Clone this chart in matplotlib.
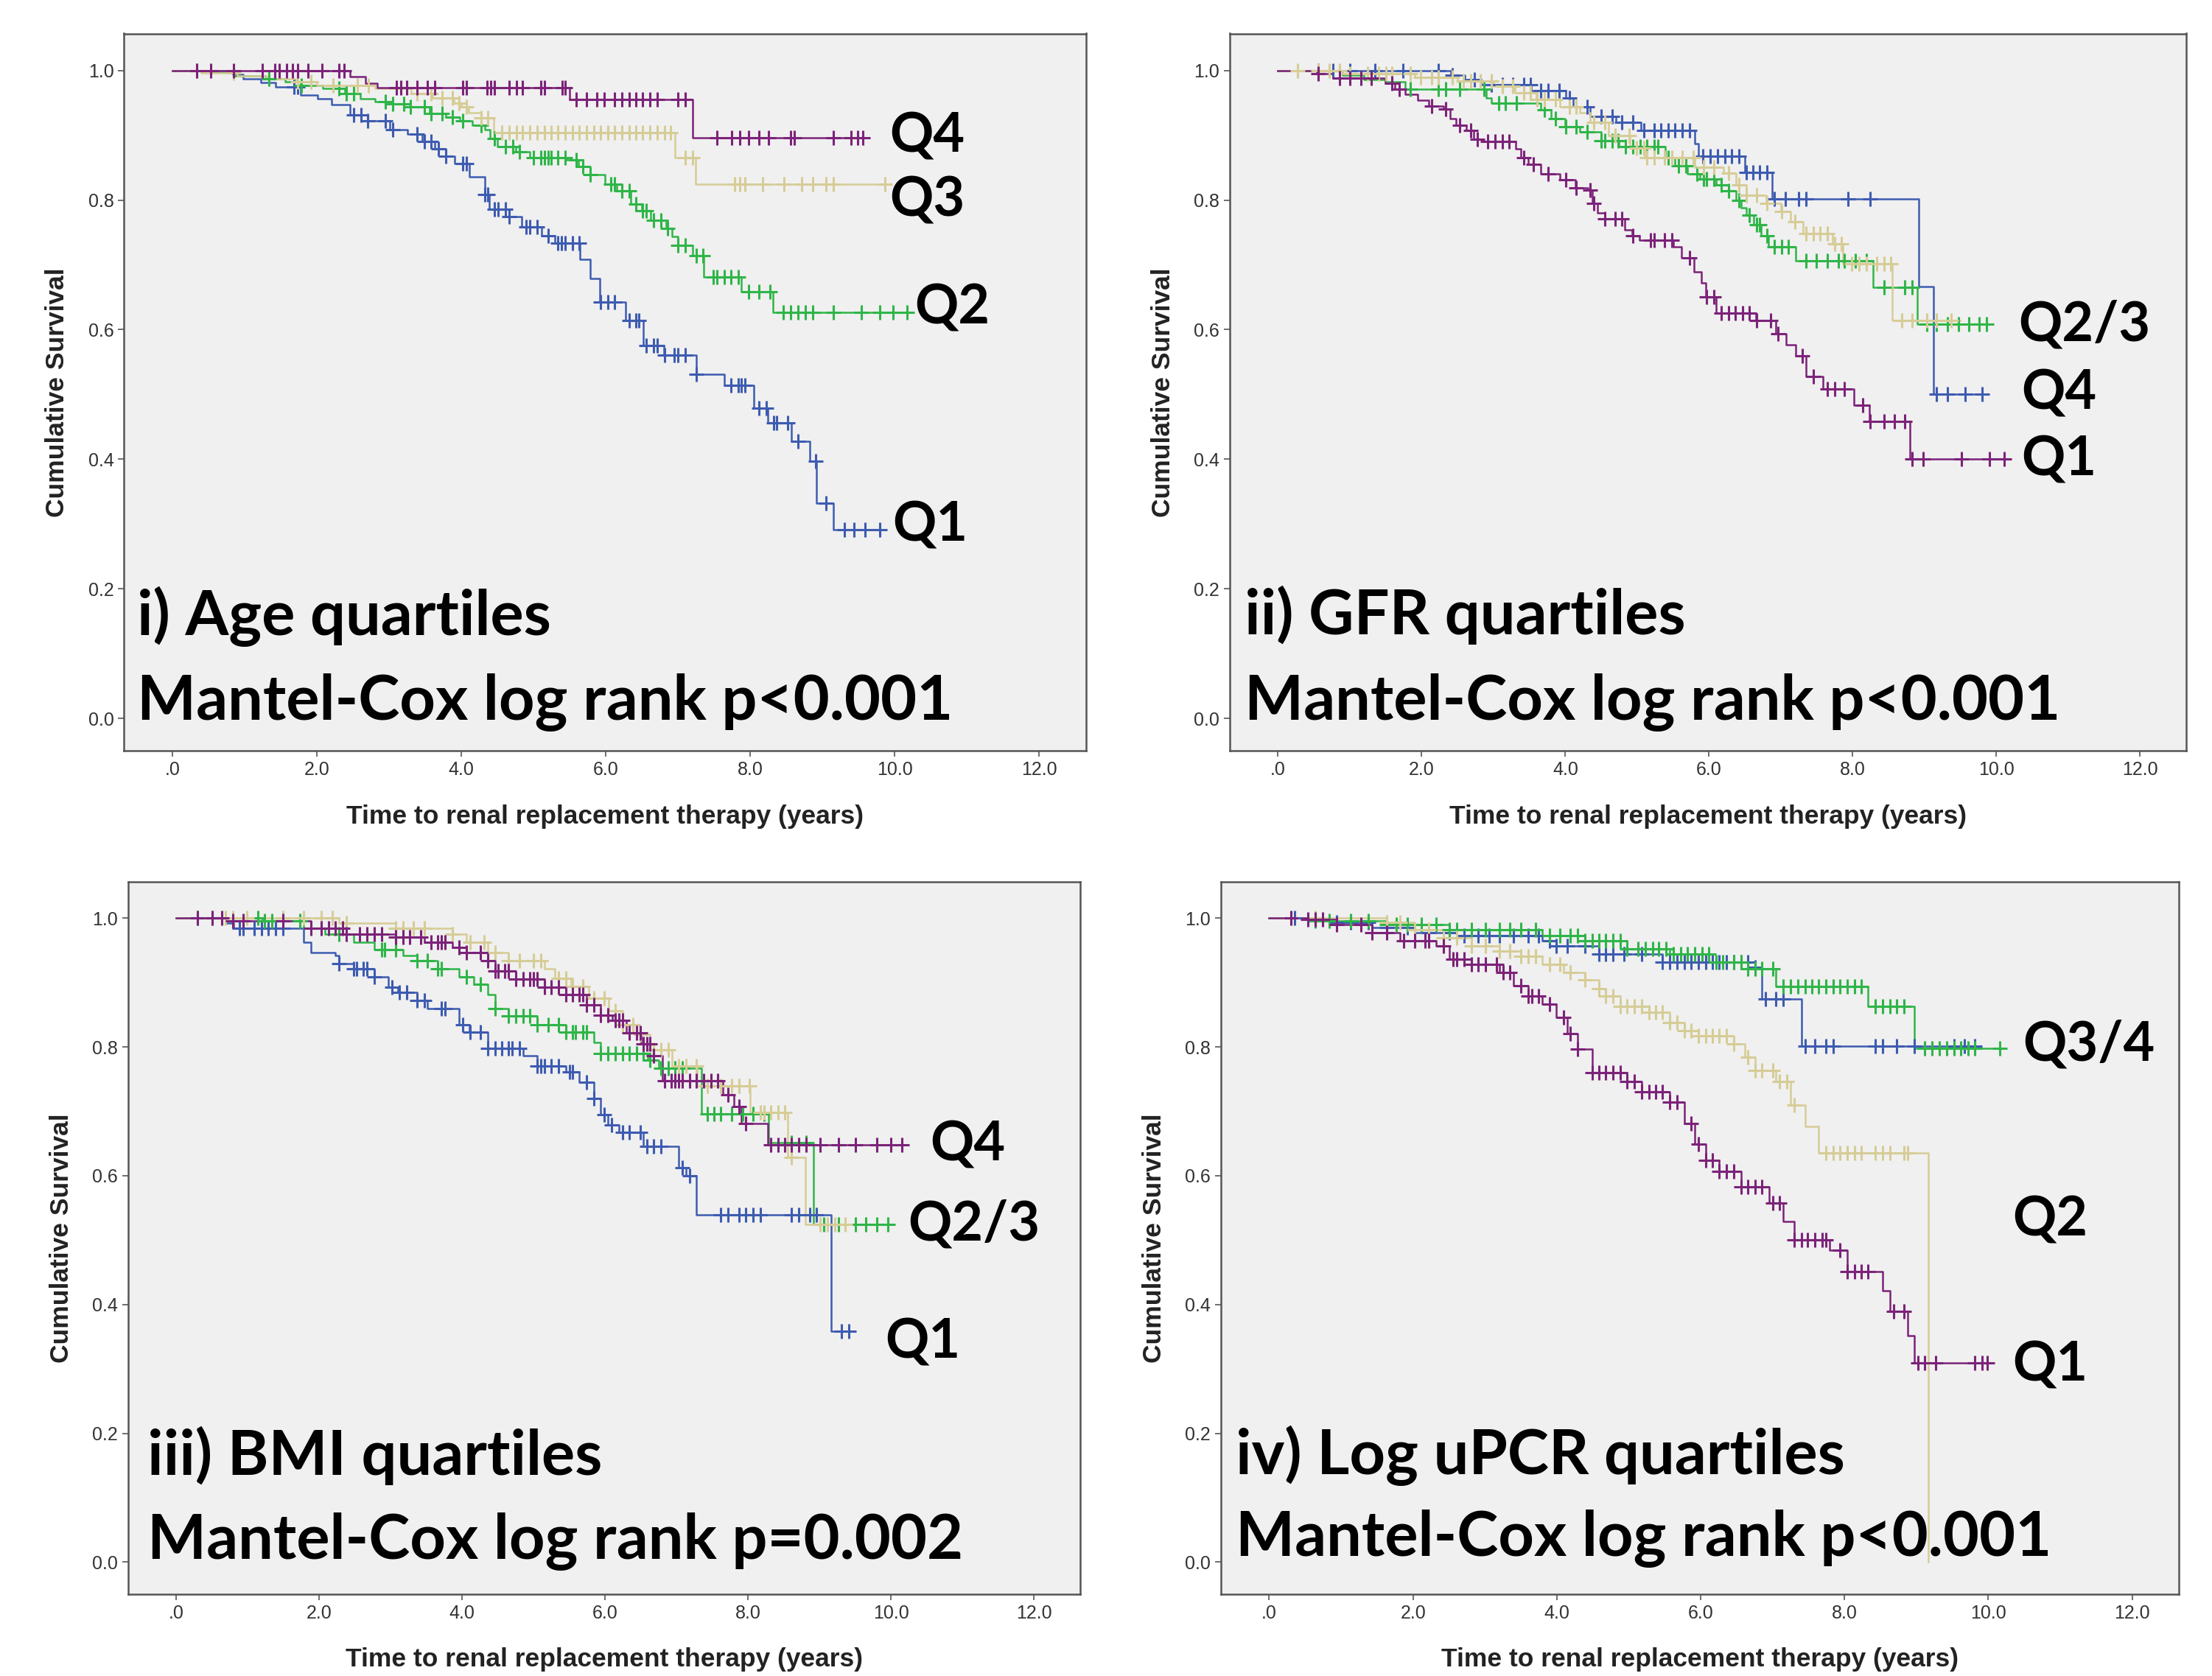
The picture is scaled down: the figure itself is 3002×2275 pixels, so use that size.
import numpy as np
import matplotlib
matplotlib.use("Agg")
import matplotlib.pyplot as plt
from matplotlib import font_manager

# ---- data (time in years, cumulative survival) ----
# panel i: age quartiles
age_q1_t = [0.84, 0.98, 1.22, 1.43, 1.77, 2.01, 2.2, 2.46, 2.7, 3.01, 3.25, 3.46, 3.63, 3.78, 3.91, 4.11, 4.32, 4.39,
            4.66, 4.84, 5.11, 5.29, 5.64, 5.78, 5.92, 6.27, 6.52, 6.8, 7.25, 7.64, 8.05, 8.24, 8.57, 8.82, 8.92, 9.15]
age_q1_s = [0.994, 0.987, 0.981, 0.975, 0.962, 0.956, 0.947, 0.931, 0.922, 0.909, 0.902, 0.891, 0.879, 0.868, 0.856,
            0.836, 0.809, 0.786, 0.774, 0.759, 0.745, 0.733, 0.708, 0.679, 0.643, 0.614, 0.576, 0.561, 0.531, 0.514,
            0.479, 0.456, 0.428, 0.397, 0.332, 0.291]
age_q1_end = 9.8
age_q1_c = [1.68, 1.73, 2.51, 2.61, 2.7, 2.95, 3.05, 3.39, 3.49, 3.58, 3.68, 3.78, 4.02, 4.07, 4.32, 4.37, 4.46, 4.51,
            4.61, 4.66, 4.9, 4.95, 5.05, 5.2, 5.34, 5.39, 5.44, 5.54, 5.63, 5.93, 6.03, 6.12, 6.32, 6.42, 6.46, 6.56,
            6.66, 6.71, 6.81, 6.95, 7.0, 7.1, 7.25, 7.73, 7.83, 7.88, 7.93, 8.12, 8.22, 8.32, 8.37, 8.52, 8.66, 8.91,
            9.05, 9.3, 9.44, 9.59, 9.79]

age_q2_t = [0.53, 0.87, 1.29, 1.56, 1.77, 2.08, 2.39, 2.6, 2.8, 3.05, 3.29, 3.56, 3.78, 3.98, 4.15, 4.32, 4.4, 4.5,
            4.75, 4.95, 5.46, 5.62, 5.78, 5.99, 6.15, 6.34, 6.5, 6.62, 6.83, 6.92, 7.0, 7.2, 7.36, 7.88, 8.31]
age_q2_s = [0.997, 0.992, 0.987, 0.982, 0.977, 0.972, 0.964, 0.956, 0.952, 0.948, 0.944, 0.934, 0.928, 0.922, 0.915,
            0.909, 0.895, 0.883, 0.875, 0.866, 0.862, 0.852, 0.839, 0.825, 0.814, 0.794, 0.784, 0.769, 0.756, 0.744,
            0.73, 0.714, 0.681, 0.658, 0.627]
age_q2_end = 10.2
age_q2_c = [0.34, 1.34, 1.78, 2.31, 2.41, 2.51, 2.95, 3.05, 3.2, 3.29, 3.49, 3.58, 3.73, 3.88, 4.02, 4.27, 4.46, 4.61,
            4.71, 4.8, 5.0, 5.1, 5.15, 5.2, 5.24, 5.34, 5.44, 5.59, 5.68, 5.78, 6.07, 6.12, 6.22, 6.32, 6.42, 6.51,
            6.56, 6.66, 6.76, 6.86, 7.0, 7.1, 7.25, 7.34, 7.49, 7.54, 7.64, 7.73, 7.83, 7.98, 8.12, 8.27, 8.46, 8.56,
            8.66, 8.76, 8.86, 9.15, 9.54, 9.79, 9.98, 10.17]

age_q3_t = [0.4, 0.9, 1.3, 1.7, 2.0, 2.8, 3.3, 3.6, 3.9, 4.0, 4.1, 4.27, 4.45, 6.96, 7.24]
age_q3_s = [0.996, 0.992, 0.987, 0.982, 0.977, 0.972, 0.964, 0.958, 0.95, 0.944, 0.935, 0.927, 0.904, 0.866, 0.824]
age_q3_end = 9.87
age_q3_c = [0.85, 1.73, 1.92, 2.22, 2.56, 2.71, 3.39, 3.58, 3.73, 3.88, 3.97, 4.07, 4.27, 4.37, 4.56, 4.66, 4.76, 4.85,
            4.95, 5.05, 5.15, 5.24, 5.34, 5.44, 5.54, 5.63, 5.73, 5.83, 5.93, 6.03, 6.12, 6.22, 6.32, 6.42, 6.51, 6.61,
            6.71, 6.81, 6.9, 7.1, 7.2, 7.78, 7.86, 7.93, 8.17, 8.47, 8.71, 8.86, 9.05, 9.15, 9.87]

age_q4_t = [2.46, 2.67, 2.84, 5.5, 7.2]
age_q4_s = [0.99, 0.98, 0.974, 0.955, 0.896]
age_q4_end = 9.56
age_q4_c = [0.34, 0.53, 0.85, 1.24, 1.42, 1.48, 1.58, 1.66, 1.73, 1.88, 2.07, 2.3, 2.38, 3.1, 3.16, 3.24, 3.39, 3.53,
            3.63, 4.02, 4.07, 4.36, 4.41, 4.46, 4.66, 4.76, 4.85, 5.1, 5.15, 5.4, 5.44, 5.59, 5.73, 5.88, 5.98, 6.12,
            6.22, 6.32, 6.42, 6.51, 6.61, 6.71, 7.0, 7.1, 7.54, 7.74, 7.86, 7.98, 8.12, 8.25, 8.56, 8.61, 9.15, 9.4,
            9.49, 9.56]

# panel ii: GFR quartiles
gfr_q1_t = [0.54, 0.76, 1.49, 1.63, 1.77, 1.95, 2.1, 2.3, 2.4, 2.48, 2.62, 2.72, 2.86, 3.31, 3.38, 3.48, 3.66, 3.93,
            4.14, 4.31, 4.38, 4.45, 4.55, 4.83, 4.93, 5.03, 5.5, 5.62, 5.79, 5.89, 5.96, 6.1, 6.65, 6.93, 7.07, 7.21,
            7.35, 7.59, 8.02, 8.23, 8.8]
gfr_q1_s = [0.995, 0.9885, 0.98, 0.971, 0.963, 0.954, 0.945, 0.941, 0.926, 0.915, 0.907, 0.894, 0.89, 0.879, 0.866,
            0.855, 0.84, 0.831, 0.819, 0.815, 0.795, 0.78, 0.771, 0.754, 0.745, 0.738, 0.728, 0.711, 0.689, 0.672,
            0.65, 0.626, 0.614, 0.594, 0.577, 0.56, 0.528, 0.508, 0.484, 0.458, 0.40]
gfr_q1_end = 10.19
gfr_q1_c = [0.56, 0.86, 1.0, 1.15, 1.3, 1.59, 1.69, 2.14, 2.33, 2.53, 2.68, 2.78, 2.92, 3.02, 3.12, 3.22, 3.42, 3.56,
            3.76, 4.01, 4.15, 4.35, 4.4, 4.55, 4.69, 4.79, 4.94, 5.19, 5.24, 5.38, 5.48, 5.73, 5.97, 6.07, 6.17, 6.27,
            6.37, 6.47, 6.56, 6.66, 6.86, 6.96, 7.3, 7.45, 7.65, 7.75, 7.89, 8.14, 8.24, 8.44, 8.58, 8.73, 8.83, 8.98,
            9.52, 9.91, 10.11]

gfr_q2_t = [0.9, 1.2, 1.5, 1.77, 2.9, 2.97, 3.66, 3.8, 4.0, 4.2, 4.5, 4.75, 5.39, 5.53, 5.7, 5.87, 6.1, 6.27, 6.38,
            6.45, 6.52, 6.62, 6.73, 6.83, 7.21, 8.28, 8.9]
gfr_q2_s = [0.993, 0.986, 0.983, 0.971, 0.958, 0.95, 0.939, 0.926, 0.913, 0.905, 0.892, 0.883, 0.866, 0.853, 0.84,
            0.833, 0.823, 0.814, 0.80, 0.788, 0.777, 0.762, 0.745, 0.728, 0.706, 0.665, 0.609]
gfr_q2_end = 9.86
gfr_q2_c = [1.84, 2.23, 2.33, 2.53, 2.87, 3.07, 3.17, 3.32, 3.71, 3.86, 4.01, 4.15, 4.3, 4.5, 4.55, 4.65, 4.74, 4.84,
            4.94, 5.04, 5.14, 5.24, 5.29, 5.43, 5.58, 5.68, 5.83, 5.93, 5.97, 6.07, 6.17, 6.27, 6.42, 6.56, 6.66, 6.71,
            6.81, 6.91, 7.01, 7.11, 7.35, 7.5, 7.65, 7.8, 7.89, 8.04, 8.19, 8.44, 8.73, 8.83, 9.03, 9.17, 9.32, 9.47,
            9.62, 9.76, 9.86]

gfr_q3_t = [0.9, 1.9, 2.5, 3.0, 3.3, 3.6, 3.93, 4.2, 4.35, 4.6, 4.9, 5.1, 5.8, 6.2, 6.38, 6.52, 6.8, 7.0, 7.14, 7.31,
            7.72, 7.86, 8.55]
gfr_q3_s = [0.995, 0.989, 0.984, 0.976, 0.965, 0.955, 0.944, 0.935, 0.92, 0.9, 0.88, 0.866, 0.851, 0.841, 0.823,
            0.807, 0.795, 0.782, 0.767, 0.748, 0.732, 0.702, 0.614]
gfr_q3_end = 9.5
gfr_q3_c = [0.27, 0.56, 0.71, 0.86, 1.0, 1.25, 1.4, 1.5, 1.59, 1.84, 1.99, 2.14, 2.23, 2.43, 2.58, 2.68, 2.82, 2.97,
            3.12, 3.27, 3.42, 3.51, 3.61, 3.71, 3.86, 4.06, 4.15, 4.4, 4.55, 4.69, 4.89, 4.99, 5.09, 5.14, 5.24, 5.38,
            5.48, 5.63, 5.78, 5.93, 6.07, 6.27, 6.42, 6.52, 6.66, 6.81, 7.01, 7.2, 7.35, 7.45, 7.55, 7.65, 7.75, 7.84,
            7.99, 8.09, 8.19, 8.34, 8.44, 8.53, 8.68, 8.83, 9.03, 9.17, 9.37]

gfr_q4_t = [2.41, 2.6, 2.83, 3.52, 4.01, 4.11, 4.35, 4.7, 5.05, 5.8, 5.85, 6.5, 6.88, 8.92, 9.13]
gfr_q4_s = [0.993, 0.986, 0.978, 0.969, 0.958, 0.944, 0.929, 0.92, 0.907, 0.887, 0.868, 0.843, 0.8015, 0.667, 0.501]
gfr_q4_end = 9.8
gfr_q4_c = [0.56, 0.76, 1.0, 1.35, 1.74, 2.23, 2.43, 2.73, 2.97, 3.12, 3.27, 3.42, 3.51, 3.66, 3.76, 3.91, 4.06, 4.3,
            4.5, 4.65, 4.79, 4.94, 5.09, 5.24, 5.33, 5.43, 5.53, 5.63, 5.73, 5.92, 6.02, 6.12, 6.22, 6.32, 6.42, 6.52,
            6.61, 6.71, 6.81, 6.91, 7.06, 7.25, 7.35, 7.94, 8.24, 9.17, 9.32, 9.57, 9.8]

# panel iii: BMI quartiles
bmi_q1_t = [0.69, 0.8, 1.78, 1.88, 2.23, 2.28, 2.48, 2.77, 2.97, 3.1, 3.37, 3.51, 3.96, 4.1, 4.36, 4.85, 5.05, 5.45,
            5.64, 5.84, 5.94, 6.04, 6.19, 6.53, 7.03, 7.13, 7.28, 9.16]
bmi_q1_s = [0.992, 0.984, 0.963, 0.947, 0.942, 0.93, 0.922, 0.909, 0.893, 0.885, 0.872, 0.86, 0.835, 0.823, 0.798,
            0.786, 0.77, 0.761, 0.745, 0.72, 0.695, 0.679, 0.667, 0.646, 0.613, 0.60, 0.539, 0.358]
bmi_q1_end = 9.46
bmi_q1_c = [0.89, 0.94, 1.09, 1.19, 1.29, 1.39, 1.49, 2.28, 2.48, 2.52, 2.62, 2.67, 2.77, 3.02, 3.12, 3.22, 3.37,
            3.47, 3.71, 3.76, 4.01, 4.11, 4.26, 4.36, 4.46, 4.55, 4.65, 4.7, 4.8, 5.05, 5.1, 5.15, 5.25, 5.35, 5.5,
            5.54, 5.74, 5.84, 5.99, 6.09, 6.24, 6.34, 6.49, 6.58, 6.68, 6.78, 7.08, 7.18, 7.62, 7.72, 7.87, 7.97, 8.07,
            8.17, 8.61, 8.71, 8.86, 8.96, 9.31, 9.41]

bmi_q2_t = [1.2, 1.78, 2.08, 2.48, 2.77, 3.17, 3.37, 3.66, 3.96, 4.16, 4.36, 4.46, 4.65, 5.05, 5.45, 5.84, 5.94, 6.6,
            6.75, 7.35, 8.29, 8.91]
bmi_q2_s = [0.996, 0.984, 0.975, 0.963, 0.951, 0.942, 0.934, 0.922, 0.909, 0.897, 0.881, 0.86, 0.848, 0.835, 0.823,
            0.807, 0.79, 0.78, 0.767, 0.696, 0.652, 0.524]
bmi_q2_end = 9.96
bmi_q2_c = [0.3, 0.5, 1.14, 1.24, 1.34, 1.49, 1.73, 2.28, 2.87, 2.92, 3.07, 3.37, 3.51, 3.66, 3.71, 4.06, 4.26, 4.46,
            4.65, 4.75, 4.85, 4.95, 5.05, 5.2, 5.35, 5.45, 5.54, 5.59, 5.69, 5.74, 5.94, 6.04, 6.14, 6.24, 6.34, 6.44,
            6.53, 6.63, 6.78, 6.88, 6.98, 7.08, 7.43, 7.52, 7.62, 7.77, 7.92, 8.07, 8.22, 8.61, 8.81, 9.06, 9.26, 9.5,
            9.65, 9.8, 9.95]

bmi_q3_t = [2.28, 3.07, 3.86, 4.06, 4.36, 4.65, 5.15, 5.3, 5.52, 5.77, 6.05, 6.24, 6.44, 6.63, 6.94, 7.29, 8.03,
            8.55, 8.8]
bmi_q3_s = [0.992, 0.984, 0.975, 0.963, 0.947, 0.934, 0.921, 0.907, 0.894, 0.876, 0.856, 0.835, 0.82, 0.796, 0.77,
            0.74, 0.698, 0.629, 0.525]
bmi_q3_end = 9.6
bmi_q3_c = [0.5, 0.69, 0.79, 0.99, 1.49, 1.78, 2.03, 2.18, 2.38, 3.07, 3.17, 3.32, 3.47, 3.86, 4.11, 4.31, 4.46, 4.65,
            4.8, 5.0, 5.1, 5.35, 5.45, 5.54, 5.69, 5.84, 5.99, 6.14, 6.24, 6.39, 6.49, 6.68, 6.78, 6.88, 7.03, 7.13,
            7.28, 7.43, 7.62, 7.77, 7.87, 8.02, 8.17, 8.22, 8.32, 8.42, 8.51, 8.61, 9.01, 9.11, 9.21, 9.36]

bmi_q4_t = [0.79, 1.88, 2.38, 3.07, 3.47, 3.86, 4.06, 4.36, 4.46, 4.75, 5.15, 5.45, 5.74, 5.94, 6.1, 6.3, 6.5, 6.68,
            6.8, 7.65, 7.8, 7.9, 8.27]
bmi_q4_s = [0.996, 0.984, 0.975, 0.971, 0.963, 0.955, 0.947, 0.934, 0.918, 0.905, 0.893, 0.881, 0.865, 0.85, 0.841,
            0.822, 0.805, 0.787, 0.748, 0.726, 0.708, 0.681, 0.648]
bmi_q4_end = 10.17
bmi_q4_c = [0.3, 0.5, 0.64, 0.79, 0.94, 1.49, 1.88, 2.03, 2.13, 2.23, 2.33, 2.38, 2.57, 2.67, 2.77, 2.87, 3.07, 3.17,
            3.27, 3.42, 3.56, 3.66, 3.71, 3.76, 3.96, 4.06, 4.26, 4.36, 4.46, 4.5, 4.6, 4.65, 4.75, 4.85, 4.95, 5.0,
            5.05, 5.15, 5.25, 5.35, 5.45, 5.54, 5.64, 5.69, 5.74, 5.84, 5.94, 6.04, 6.14, 6.19, 6.24, 6.34, 6.44,
            6.49, 6.53, 6.58, 6.63, 6.68, 6.83, 6.93, 6.98, 7.03, 7.08, 7.18, 7.28, 7.38, 7.48, 7.57, 7.72, 7.87,
            7.97, 8.32, 8.42, 8.51, 8.61, 8.71, 8.81, 9.01, 9.26, 9.5, 9.8, 10.0, 10.15]

# panel iv: log uPCR quartiles
upcr_q1_t = [0.54, 0.94, 1.43, 1.82, 2.32, 2.51, 2.81, 3.2, 3.4, 3.6, 3.8, 3.99, 4.14, 4.29, 4.49, 4.98, 5.18, 5.57,
             5.77, 5.92, 6.07, 6.26, 6.56, 6.95, 7.15, 7.3, 7.79, 8.04, 8.53, 8.63, 8.88, 8.97]
upcr_q1_s = [0.998, 0.99, 0.978, 0.965, 0.957, 0.937, 0.928, 0.916, 0.895, 0.879, 0.867, 0.846, 0.821, 0.797, 0.76,
             0.747, 0.731, 0.714, 0.681, 0.649, 0.624, 0.607, 0.583, 0.558, 0.529, 0.5, 0.484, 0.451, 0.422, 0.389,
             0.352, 0.309]
upcr_q1_end = 10.0
upcr_q1_c = [0.3, 0.54, 0.64, 0.74, 0.94, 1.28, 1.43, 1.63, 1.87, 2.02, 2.17, 2.22, 2.42, 2.56, 2.61, 2.71, 2.81,
             2.91, 3.01, 3.16, 3.25, 3.35, 3.5, 3.6, 3.65, 3.75, 3.9, 4.09, 4.19, 4.29, 4.49, 4.59, 4.68, 4.78, 4.88,
             4.98, 5.08, 5.18, 5.28, 5.37, 5.47, 5.57, 5.67, 5.87, 5.97, 6.07, 6.16, 6.26, 6.36, 6.46, 6.56, 6.66,
             6.76, 6.85, 7.0, 7.1, 7.3, 7.4, 7.49, 7.59, 7.69, 7.74, 7.94, 8.04, 8.14, 8.23, 8.33, 8.68, 8.83, 9.02,
             9.12, 9.27, 9.81, 9.91, 9.99]

upcr_q2_t = [1.63, 2.02, 2.42, 2.81, 3.2, 3.5, 3.8, 4.09, 4.39, 4.59, 4.68, 4.88, 5.28, 5.57, 5.77, 5.97, 6.46, 6.61,
             6.76, 7.05, 7.25, 7.45, 7.64, 9.17]
upcr_q2_s = [0.994, 0.982, 0.97, 0.957, 0.949, 0.941, 0.928, 0.916, 0.904, 0.891, 0.879, 0.863, 0.854, 0.838, 0.826,
             0.817, 0.805, 0.784, 0.764, 0.747, 0.71, 0.677, 0.636, 0.0]
upcr_q2_end = 9.17
upcr_q2_c = [0.3, 0.64, 1.63, 1.82, 2.02, 2.22, 2.42, 2.61, 2.81, 3.01, 3.2, 3.35, 3.5, 3.6, 3.7, 3.9, 4.04, 4.19,
             4.39, 4.59, 4.68, 4.78, 4.88, 4.98, 5.08, 5.18, 5.28, 5.37, 5.47, 5.57, 5.67, 5.77, 5.87, 5.97, 6.07,
             6.16, 6.26, 6.36, 6.46, 6.66, 6.76, 6.85, 7.0, 7.1, 7.2, 7.3, 7.74, 7.84, 7.94, 8.04, 8.14, 8.23, 8.43,
             8.53, 8.63, 8.83, 8.88]

upcr_q3_t = [0.64, 1.63, 2.51, 3.8, 4.39, 4.98, 5.57, 6.16, 6.66, 7.05, 8.33, 8.97]
upcr_q3_s = [0.996, 0.99, 0.982, 0.973, 0.965, 0.953, 0.945, 0.932, 0.922, 0.894, 0.863, 0.798]
upcr_q3_end = 10.2
upcr_q3_c = [0.64, 0.84, 1.13, 1.38, 1.63, 1.77, 1.92, 2.12, 2.32, 2.51, 2.61, 2.81, 3.01, 3.2, 3.35, 3.5, 3.7, 3.9,
             4.04, 4.19, 4.29, 4.39, 4.49, 4.59, 4.68, 4.78, 4.88, 4.98, 5.13, 5.23, 5.33, 5.42, 5.52, 5.62, 5.72,
             5.82, 5.92, 6.02, 6.11, 6.21, 6.31, 6.46, 6.56, 6.66, 6.76, 6.85, 7.0, 7.15, 7.25, 7.35, 7.45, 7.55,
             7.64, 7.74, 7.84, 7.94, 8.04, 8.14, 8.23, 8.43, 8.53, 8.63, 8.73, 8.83, 9.12, 9.22, 9.32, 9.42, 9.52,
             9.62, 9.72, 9.81, 10.16]

upcr_q4_t = [0.64, 0.94, 1.43, 2.02, 2.61, 3.8, 3.99, 4.59, 5.47, 6.76, 6.85, 7.4]
upcr_q4_s = [0.998, 0.994, 0.986, 0.978, 0.973, 0.965, 0.957, 0.945, 0.932, 0.924, 0.875, 0.801]
upcr_q4_end = 9.86
upcr_q4_c = [0.35, 0.64, 0.94, 1.13, 1.38, 1.63, 1.92, 2.22, 2.51, 2.71, 2.91, 3.06, 3.2, 3.4, 3.6, 3.75, 3.9, 3.99,
             4.14, 4.39, 4.59, 4.68, 4.78, 4.93, 5.18, 5.47, 5.57, 5.67, 5.77, 5.87, 5.97, 6.07, 6.16, 6.26, 6.36,
             6.46, 6.56, 6.66, 6.76, 6.9, 7.05, 7.15, 7.45, 7.59, 7.74, 7.84, 8.43, 8.53, 8.73, 8.97, 9.52, 9.67, 9.81]

xticks = [0, 2, 4, 6, 8, 10, 12]
xtick_labels = [".0", "2.0", "4.0", "6.0", "8.0", "10.0", "12.0"]
yticks = [0.0, 0.2, 0.4, 0.6, 0.8, 1.0]
ytick_labels = ["0.0", "0.2", "0.4", "0.6", "0.8", "1.0"]

BLUE = "#3d5bb0"
GREEN = "#2fb548"
TAN = "#d6cc96"
PURPLE = "#7c2279"

names = {f.name for f in font_manager.fontManager.ttflist}
small_font = "Liberation Sans Narrow" if "Liberation Sans Narrow" in names else "Liberation Sans"
big_font = "Lato" if "Lato" in names else "DejaVu Sans"
plt.rcParams["font.family"] = [small_font, "DejaVu Sans"]


def km(ax, t, s, end, cens, col):
    tt = [0.0] + list(t) + [end]
    ss = [1.0] + list(s) + [s[-1]]
    ax.step(tt, ss, where="post", color=col, lw=1.8, zorder=3)
    levels = np.array([1.0] + list(s))
    idx = np.searchsorted(np.array(t), np.array(cens), side="right")
    ax.plot(cens, levels[idx], ls="none", marker="+", ms=15, mew=2.2, color=col, zorder=4)


def setup(ax):
    ax.set_facecolor("#f0f0f0")
    ax.set_xlim(-0.67, 12.65)
    ax.set_ylim(-0.05, 1.057)
    ax.set_xticks(xticks)
    ax.set_xticklabels(xtick_labels)
    ax.set_yticks(yticks)
    ax.set_yticklabels(ytick_labels)
    ax.tick_params(direction="out", length=6, width=1.2, color="#555555", labelsize=18,
                   labelcolor="#333333", pad=4)
    for sp in ax.spines.values():
        sp.set_color("#555555")
        sp.set_linewidth(1.8)
    ax.text(-0.070, 0.5, "Cumulative Survival", rotation=90, ha="center", va="center",
            transform=ax.transAxes, fontsize=25.5, fontweight="bold", color="#222222")
    ax.text(0.5, -0.092, "Time to renal replacement therapy (years)", ha="center", va="center",
            transform=ax.transAxes, fontsize=25.5, fontweight="bold", color="#222222")


def note(ax, x, y, txt, size=61):
    ax.text(x, y, txt, ha="left", va="center", fontsize=size, fontweight="bold",
            family=[big_font, "DejaVu Sans"], color="black", zorder=6)


def qlab(ax, x, y, txt):
    note(ax, x, y, txt, size=53)


fig = plt.figure(figsize=(30.02, 22.75), dpi=100)
fig.patch.set_facecolor("white")

# i) age
ax1 = fig.add_axes([0.0561, 0.552, 0.4349, 0.428])
setup(ax1)
km(ax1, age_q1_t, age_q1_s, age_q1_end, age_q1_c, BLUE)
km(ax1, age_q2_t, age_q2_s, age_q2_end, age_q2_c, GREEN)
km(ax1, age_q3_t, age_q3_s, age_q3_end, age_q3_c, TAN)
km(ax1, age_q4_t, age_q4_s, age_q4_end, age_q4_c, PURPLE)
qlab(ax1, 9.93, 0.898, "Q4")
qlab(ax1, 9.93, 0.800, "Q3")
qlab(ax1, 10.28, 0.634, "Q2")
qlab(ax1, 9.97, 0.298, "Q1")
note(ax1, -0.49, 0.157, "i) Age quartiles")
note(ax1, -0.49, 0.026, "Mantel-Cox log rank p<0.001")

# ii) GFR
ax2 = fig.add_axes([0.556, 0.552, 0.4325, 0.428])
setup(ax2)
km(ax2, gfr_q4_t, gfr_q4_s, gfr_q4_end, gfr_q4_c, BLUE)
km(ax2, gfr_q2_t, gfr_q2_s, gfr_q2_end, gfr_q2_c, GREEN)
km(ax2, gfr_q3_t, gfr_q3_s, gfr_q3_end, gfr_q3_c, TAN)
km(ax2, gfr_q1_t, gfr_q1_s, gfr_q1_end, gfr_q1_c, PURPLE)
qlab(ax2, 10.31, 0.607, "Q2/3")
qlab(ax2, 10.35, 0.502, "Q4")
qlab(ax2, 10.35, 0.399, "Q1")
note(ax2, -0.47, 0.160, "ii) GFR quartiles")
note(ax2, -0.47, 0.026, "Mantel-Cox log rank p<0.001")

# iii) BMI
ax3 = fig.add_axes([0.058, 0.0488, 0.4305, 0.4252])
setup(ax3)
km(ax3, bmi_q1_t, bmi_q1_s, bmi_q1_end, bmi_q1_c, BLUE)
km(ax3, bmi_q2_t, bmi_q2_s, bmi_q2_end, bmi_q2_c, GREEN)
km(ax3, bmi_q3_t, bmi_q3_s, bmi_q3_end, bmi_q3_c, TAN)
km(ax3, bmi_q4_t, bmi_q4_s, bmi_q4_end, bmi_q4_c, PURPLE)
qlab(ax3, 10.55, 0.648, "Q4")
qlab(ax3, 10.24, 0.525, "Q2/3")
qlab(ax3, 9.92, 0.341, "Q1")
note(ax3, -0.40, 0.165, "iii) BMI quartiles")
note(ax3, -0.40, 0.033, "Mantel-Cox log rank p=0.002")

# iv) log uPCR
ax4 = fig.add_axes([0.552, 0.0488, 0.433, 0.4252])
setup(ax4)
km(ax4, upcr_q4_t, upcr_q4_s, upcr_q4_end, upcr_q4_c, BLUE)
km(ax4, upcr_q3_t, upcr_q3_s, upcr_q3_end, upcr_q3_c, GREEN)
km(ax4, upcr_q2_t, upcr_q2_s, upcr_q2_end, upcr_q2_c, TAN)
km(ax4, upcr_q1_t, upcr_q1_s, upcr_q1_end, upcr_q1_c, PURPLE)
qlab(ax4, 10.48, 0.804, "Q3/4")
qlab(ax4, 10.34, 0.531, "Q2")
qlab(ax4, 10.34, 0.306, "Q1")
note(ax4, -0.47, 0.165, "iv) Log uPCR quartiles")
note(ax4, -0.47, 0.037, "Mantel-Cox log rank p<0.001")

fig.savefig("out.png", dpi=100, facecolor="white")
